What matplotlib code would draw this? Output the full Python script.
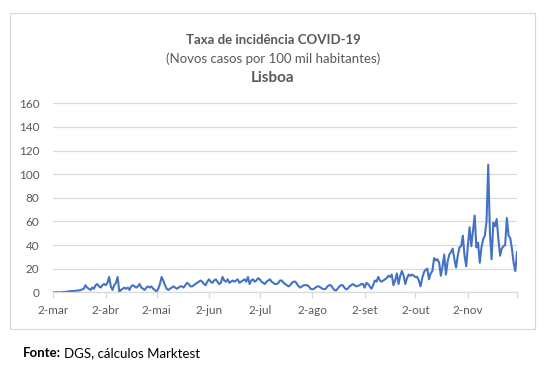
import pandas as pd
import matplotlib.pyplot as plt
from matplotlib.patches import Rectangle

plt.rcParams['font.family'] = ['Lato', 'DejaVu Sans']

# daily incidence, 2-mar .. 1-dec (each list starts on the 2nd of the month)
mar = [0, 0, 0, 0, 0, 0, 0.3, 0.3, 0.5, 0.8, 1, 1, 1, 1.2, 1.5, 1.5, 1.8,
       2.5, 3, 6, 4, 3, 2, 4, 3, 6, 7, 5, 4, 6, 7]
abr = [6, 8, 13, 5, 2, 6, 8, 13, 0.5, 2, 3, 4, 3, 4, 2, 5, 6, 5, 4, 5,
       7, 4, 3, 2, 4, 5, 4, 5, 3, 2]
mai = [0.5, 3, 7, 13, 10, 6, 3, 2, 3, 4, 5, 4, 3, 4, 5, 5, 4, 6, 8, 7,
       5, 5, 6, 7, 8, 9, 10, 9, 7, 6, 9]
jun = [11, 9, 8, 10, 11, 9, 7, 8, 13, 10, 9, 11, 8, 9, 10, 9, 10, 11, 8, 9,
       10, 11, 9, 13, 7, 10, 11, 9, 10, 12]
jul = [11, 9, 8, 7, 9, 10, 11, 9, 8, 7, 7, 8, 10, 10, 8, 7, 6, 5, 6, 8,
       9, 9, 7, 5, 4, 5, 6, 6, 6, 5, 3]
ago = [2.5, 3, 4, 5, 5, 4, 3, 2.5, 3, 5, 6, 6, 4, 2, 1.5, 3, 5, 6, 6, 4,
       2.5, 3, 5, 6, 7, 6, 5, 5.5, 6, 7, 7]
set_ = [4, 8, 7, 5, 3, 6, 10, 9, 13, 10, 9, 10, 11, 12, 14, 13, 15, 6, 10, 16,
        7, 14, 18, 14, 7, 12, 15, 14, 15, 14]
out = [13, 13, 10, 5, 12, 17, 19, 20, 11, 16, 18, 29, 27, 28, 25, 14, 22, 32, 15, 26,
       32, 34, 37, 28, 21, 31, 38, 39, 48, 31, 22]
nov = [40, 55, 39, 52, 65, 38, 42, 25, 38, 45, 48, 60, 108, 50, 28, 59, 56, 62, 45, 31,
       37, 39, 40, 63, 48, 46, 37, 25, 18, 34]

values = mar + abr + mai + jun + jul + ago + set_ + out + nov
dates = pd.date_range('2020-03-02', periods=len(values), freq='D')

tick_dates = pd.to_datetime(['2020-03-02', '2020-04-02', '2020-05-02', '2020-06-02',
                             '2020-07-02', '2020-08-02', '2020-09-02', '2020-10-02',
                             '2020-11-02'])
tick_labels = ['2-mar', '2-abr', '2-mai', '2-jun', '2-jul', '2-ago', '2-set', '2-out', '2-nov']
y_ticks = [0, 20, 40, 60, 80, 100, 120, 140, 160]

grey = '#d9d9d9'
txt = '#595959'

fig = plt.figure(figsize=(5.52, 3.78), dpi=100)
W, H = 552, 378

# chart frame
fig.patches.append(Rectangle((10 / W, 1 - 329 / H), 525 / W, 316 / H,
                             transform=fig.transFigure, fill=False,
                             ec=grey, lw=0.9))

ax = fig.add_axes([53.3 / W, 1 - 292.3 / H, (517 - 53.3) / W, 189 / H])
ax.plot(dates, values, color='#4472C4', lw=1.5, solid_joinstyle='round')

ax.set_xlim(dates[0], dates[-1])
ax.set_ylim(0, 160)
ax.set_yticks(y_ticks)
ax.set_xticks(list(tick_dates) + [dates[-1]])
ax.set_xticklabels(tick_labels + [''])

ax.grid(axis='y', color=grey, lw=0.9)
ax.set_axisbelow(True)
for s in ['top', 'right', 'left']:
    ax.spines[s].set_visible(False)
ax.spines['bottom'].set_color(grey)
ax.spines['bottom'].set_linewidth(0.9)
ax.tick_params(axis='y', length=0, pad=10, labelsize=8.5, labelcolor=txt)
ax.tick_params(axis='x', length=4, color=grey, width=0.9, pad=5,
               labelsize=8.5, labelcolor=txt)

fig.text(273 / W, 1 - 40 / H, 'Taxa de incidência COVID-19', ha='center', va='center',
         weight='bold', size=9.5, color=txt)
fig.text(273 / W, 1 - 59 / H, '(Novos casos por 100 mil habitantes)', ha='center',
         va='center', size=9.5, color=txt)
fig.text(273 / W, 1 - 78 / H, 'Lisboa', ha='center', va='center',
         weight='bold', size=11, color=txt)

# footer: bold label followed by regular text
t1 = fig.text(23 / W, 1 - 353 / H, 'Fonte:', ha='left', va='center',
              weight='bold', size=9.5, color='black')
fig.canvas.draw()
bb = t1.get_window_extent()
fig.text(bb.x1 / W + 3 / W, 1 - 353 / H, 'DGS, cálculos Marktest', ha='left',
         va='center', size=9.5, color='black')

fig.savefig('out.png', dpi=100)
